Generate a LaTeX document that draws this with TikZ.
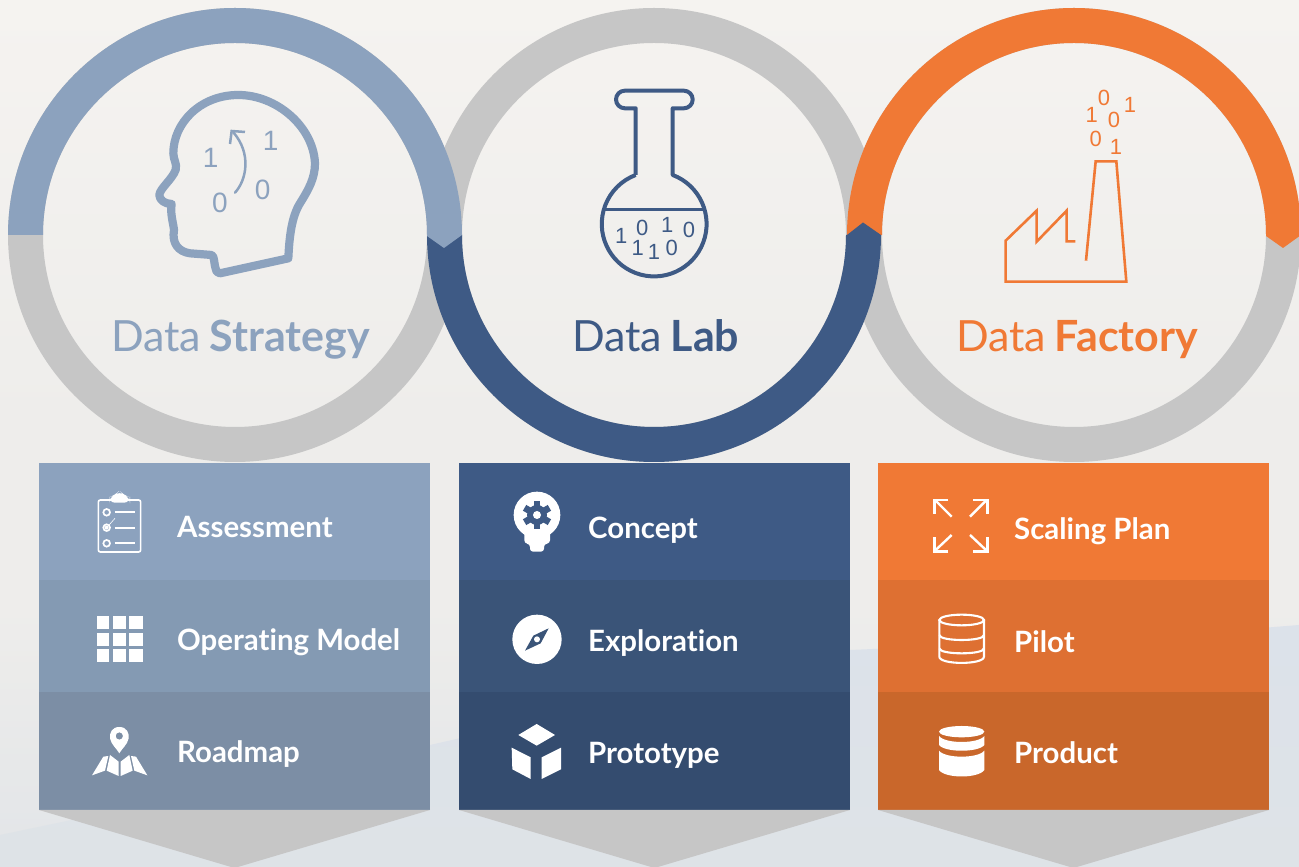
\documentclass[tikz,border=0pt]{standalone}
\usepackage{fontspec}
\setmainfont[Ligatures=NoCommon]{Lato}
\newfontfamily\digitfont{Liberation Sans}
\definecolor{lblue}{HTML}{8CA2BE}
\definecolor{lblueb}{HTML}{849AB3}
\definecolor{lbluec}{HTML}{7C8EA5}
\definecolor{dblue}{HTML}{3E5A85}
\definecolor{dblueb}{HTML}{3A5478}
\definecolor{dbluec}{HTML}{344C6F}
\definecolor{orng}{HTML}{F07935}
\definecolor{orngb}{HTML}{DE7032}
\definecolor{orngc}{HTML}{C9672B}
\definecolor{ringgray}{HTML}{C6C6C6}
\definecolor{bgtop}{HTML}{F5F3F0}
\definecolor{bgmid}{HTML}{EEEDEB}
\definecolor{bglow}{HTML}{E2E5E8}
\definecolor{bgbot}{HTML}{DEE3E7}
\definecolor{hill}{HTML}{DCE2EA}
\tikzset{
  x=1pt,y=1pt,
  ring/.style={fill=ringgray,even odd rule},
  heading/.style={font=\fontsize{43}{43}\selectfont,anchor=base west,inner sep=0pt},
  label/.style={font=\fontsize{29.4}{30}\selectfont\bfseries,text=white,anchor=base west,inner sep=0pt},
  bit/.style={font=\digitfont\fontsize{#1}{#1}\selectfont,inner sep=0pt},
  bit/.default=22,
  zoomed/.style={x=0.33333pt,y=-0.33333pt},
}
\begin{document}
\begin{tikzpicture}
\useasboundingbox (0,0) rectangle (1299,867);
% background
\shade[top color=bgmid,bottom color=bglow] (0,0) rectangle (1299,260);
\fill[bgmid] (0,260) rectangle (1299,440);
\shade[top color=bgtop,bottom color=bgmid] (0,440) rectangle (1299,867);
\shade[top color=hill,bottom color=bgbot] (0,0) -- (0,32) -- (430,122) -- (850,217) -- (1150,230) -- (1299,242) -- (1299,0) -- cycle;
% rings, grey
\fill[ring] (654,632) circle[radius=227] (654,632) circle[radius=192];
\fill[ring] (235,632) circle[radius=227] (235,632) circle[radius=192];
\fill[ring] (1074,632) circle[radius=227] (1074,632) circle[radius=192];
% orange arc
\fill[orng] (847,632) arc[start angle=180,end angle=0,radius=227] -- (1283,619) -- (1266,631) -- (1266,632) arc[start angle=0,end angle=180,radius=192] -- cycle;
% dark arc
\fill[dblue] (427,632) arc[start angle=180,end angle=360,radius=227] -- (881,632) -- (863,644.5) -- (847,632) -- (846,632) arc[start angle=360,end angle=180,radius=192] -- cycle;
% light arc
\fill[lblue] (8,632) arc[start angle=180,end angle=0,radius=227] -- (444,619) -- (427,631) -- (427,632) arc[start angle=0,end angle=180,radius=192] -- cycle;
% headings
\node[heading,text=lblue] (h1) at (111,515.5) {Data\hspace{8.5pt}\textbf{Strategy}};
\node[heading,text=dblue] (h2) at (572,515.5) {Data\hspace{8.5pt}\textbf{Lab}};
\node[heading,text=orng] (h3) at (956,515.5) {Data\hspace{8.5pt}\textbf{Factory}};
% columns
\fill[lblue] (39,287) rectangle (430,404);
\fill[lblueb] (39,175) rectangle (430,287);
\fill[lbluec] (39,57) rectangle (430,175);
\fill[dblue] (459,287) rectangle (850,404);
\fill[dblueb] (459,175) rectangle (850,287);
\fill[dbluec] (459,57) rectangle (850,175);
\fill[orng] (878,287) rectangle (1269,404);
\fill[orngb] (878,175) rectangle (1269,287);
\fill[orngc] (878,57) rectangle (1269,175);
\fill[ringgray] (39,57) -- (430,57) -- (234.5,-1) -- cycle;
\fill[ringgray] (459,57) -- (850,57) -- (654.5,-1) -- cycle;
\fill[ringgray] (878,57) -- (1269,57) -- (1073.5,-1) -- cycle;
% labels
\node[label] (l11) at (177,329.5) {Assessment};
\node[label] (l12) at (177,216) {Operating Model};
\node[label] (l13) at (177,104) {Roadmap};
\node[label] (l21) at (588,328.5) {Concept};
\node[label] (l22) at (588,215) {Exploration};
\node[label] (l23) at (588,103) {Prototype};
\node[label] (l31) at (1014,327.5) {Scaling Plan};
\node[label] (l32) at (1014,214) {Pilot};
\node[label] (l33) at (1014,103) {Product};
% head
\begin{scope}[zoomed,shift={(0pt,867pt)}]
\draw[lblue,line width=8.2pt,line join=round,line cap=round]
 (865,775) .. controls (868,710) and (875,650) .. (900,610)
 .. controls (925,570) and (945,535) .. (945,490)
 .. controls (940,380) and (830,285) .. (715,285)
 .. controls (600,285) and (520,370) .. (520,460)
 .. controls (520,480) and (532,490) .. (527,510)
 .. controls (515,540) and (480,565) .. (478,585)
 .. controls (478,600) and (495,612) .. (515,612)
 .. controls (510,640) and (520,670) .. (522,690)
 .. controls (515,730) and (535,755) .. (570,760)
 -- (635,765) .. controls (645,770) and (640,790) .. (650,815)
 -- (660,820) -- cycle;
\draw[lblue,line width=2.5pt,line cap=round] (705,578) .. controls (740,540) and (755,460) .. (700,397);
\draw[lblue,line width=2.5pt,line join=miter] (690,432) -- (695,393) -- (735,396);
\node[bit=28,text=lblue] (d1) at (632,473) {1};
\node[bit=28,text=lblue] (d2) at (812,422) {1};
\node[bit=28,text=lblue] (d3) at (660,608) {0};
\node[bit=28,text=lblue] (d4) at (788,570) {0};
\end{scope}
% flask
\draw[dblue,line width=4pt,line join=round]
 (635.7,692) -- (635.7,758.7) -- (624.8,758.7) arc[start angle=270,end angle=90,radius=8.8]
 -- (683.9,776.3) arc[start angle=90,end angle=-90,radius=8.8]
 -- (672.7,758.7) -- (672.7,692) arc[start angle=69.3,end angle=-249.3,radius=52.4];
\draw[dblue,line width=3pt] (603.6,657) -- (704.4,657);
\begin{scope}[zoomed,shift={(420pt,867pt)}]
\node[bit,text=dblue] (f1) at (604,708) {1};
\node[bit,text=dblue] (f2) at (667,685) {0};
\node[bit,text=dblue] (f3) at (742,675) {1};
\node[bit,text=dblue] (f4) at (807,690) {0};
\node[bit,text=dblue] (f5) at (653,745) {1};
\node[bit,text=dblue] (f6) at (702,755) {1};
\node[bit,text=dblue] (f7) at (755,745) {0};
\end{scope}
% factory
\begin{scope}[zoomed,shift={(840pt,867pt)}]
\draw[orng,line width=2.6pt,line join=miter]
 (738,782) -- (767,484) -- (829,484) -- (859,845) -- (497,845) -- (497,722) -- (590,632) -- (590,725) -- (680,632) -- (680,724) -- (706,724);
\node[bit,text=orng] (g1) at (792,295) {0};
\node[bit,text=orng] (g2) at (870,314) {1};
\node[bit,text=orng] (g3) at (755,345) {1};
\node[bit,text=orng] (g4) at (822,360) {0};
\node[bit,text=orng] (g5) at (767,417) {0};
\node[bit,text=orng] (g6) at (828,440) {1};
\end{scope}
% clipboard
\begin{scope}[zoomed,shift={(70pt,387pt)}]
\draw[white,line width=1.6pt,rounded corners=2pt] (85,60) rectangle (212,216);
\fill[white,rounded corners=6pt] (117,68) -- (117,52) -- (135,46) -- (148,32) -- (162,46) -- (180,52) -- (180,68) -- cycle;
\foreach \r in {97,143,190}{
  \draw[white,line width=1.7pt] (110,\r) circle[radius=10];
  \draw[white,line width=2pt] (134,\r) -- (196,\r);
}
\fill[white] (110,143) circle[radius=6];
\draw[white,line width=0.6pt] (110,143) -- (135,115);
% grid
\foreach \a/\b in {80/118,128/168,178/218}{
  \foreach \c/\d in {407/447,458/497,508/547}{
    \fill[white] (\a,\c) rectangle (\b,\d);
  }
}
% map
\fill[white,even odd rule] (148,741) .. controls (125,741) and (118,760) .. (120,775) .. controls (124,795) and (140,805) .. (148,820) .. controls (156,805) and (172,795) .. (176,775) .. controls (178,760) and (171,741) .. (148,741) -- cycle (148,768) circle[radius=11];
\fill[white] (100,830) -- (66,886) -- (105,872) -- (115,828) -- cycle;
\fill[white] (120,825) -- (110,872) -- (146,888) -- (146,845) -- cycle;
\fill[white] (152,845) -- (152,888) -- (188,872) -- (178,825) -- cycle;
\fill[white] (183,828) -- (193,872) -- (232,886) -- (198,830) -- cycle;
\end{scope}
\begin{scope}[zoomed,shift={(490pt,387pt)}]
% bulb
\fill[white] (141,105) circle[radius=70];
\fill[white,rounded corners=3pt] (103,150) -- (103,190) -- (120,192) -- (120,215) -- (162,215) -- (162,192) -- (180,190) -- (180,150) -- cycle;
\fill[dblue] (141,105) circle[radius=30];
\foreach \t in {0,60,...,300}{
  \fill[dblue,rotate around={\t:(141,105)}] (131,62) rectangle (151,85);
}
\fill[white] (141,105) circle[radius=12];
% compass
\fill[white] (141,478) circle[radius=74];
\fill[dblueb] (176,445) -- (152,490) -- (105,512) -- (130,467) -- cycle;
\fill[white] (141,478) circle[radius=9];
% cube
\fill[white] (140,732) -- (195,765) -- (140,797) -- (85,765) -- cycle;
\fill[white] (65,803) -- (122,832) -- (122,897) -- (67,868) -- cycle;
\fill[white] (213,803) -- (155,832) -- (155,897) -- (213,868) -- cycle;
\end{scope}
\begin{scope}[zoomed,shift={(915pt,387pt)}]
% expand
\draw[white,line width=2.4pt] (110,110) -- (60,60);
\draw[white,line width=2.4pt] (100,60) -- (58,60) -- (58,102);
\draw[white,line width=2.4pt] (165,110) -- (215,60);
\draw[white,line width=2.4pt] (175,60) -- (218,60) -- (218,102);
\draw[white,line width=2.4pt] (110,165) -- (60,212);
\draw[white,line width=2.4pt] (100,214) -- (58,214) -- (58,172);
\draw[white,line width=2.4pt] (165,165) -- (215,212);
\draw[white,line width=2.4pt] (175,214) -- (218,214) -- (218,172);
% cylinder outline
\draw[white,line width=2.1pt] (140,420) ellipse[x radius=67,y radius=16];
\draw[white,line width=2.1pt] (73,420) -- (73,530) .. controls (73,555) and (207,555) .. (207,530) -- (207,420);
\draw[white,line width=2.1pt] (73,465) .. controls (73,485) and (207,485) .. (207,465);
\draw[white,line width=2.1pt] (73,505) .. controls (73,525) and (207,525) .. (207,505);
% cylinder solid
\fill[white] (140,755) ellipse[x radius=68,y radius=17];
\fill[white] (72,768) .. controls (90,792) and (190,792) .. (208,768) -- (208,795) .. controls (190,818) and (90,818) .. (72,795) -- cycle;
\fill[white] (72,812) .. controls (90,836) and (190,836) .. (208,812) -- (208,870) .. controls (190,896) and (90,896) .. (72,870) -- cycle;
\end{scope}
\end{tikzpicture}
\end{document}
